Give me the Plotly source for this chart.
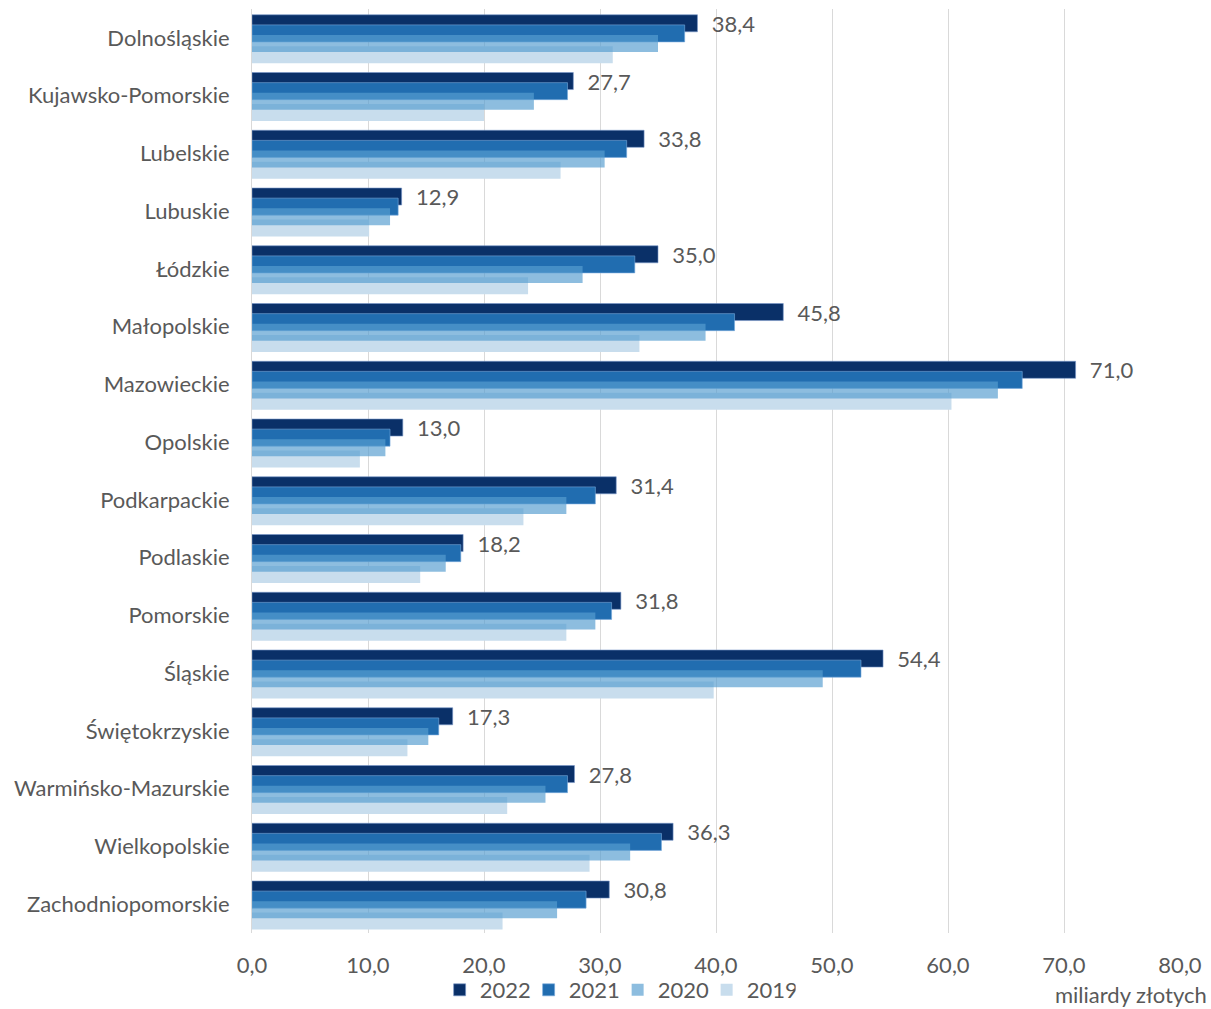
import plotly.graph_objects as go

regions = ["Dolnośląskie", "Kujawsko-Pomorskie", "Lubelskie", "Lubuskie", "Łódzkie",
           "Małopolskie", "Mazowieckie", "Opolskie", "Podkarpackie", "Podlaskie",
           "Pomorskie", "Śląskie", "Świętokrzyskie", "Warmińsko-Mazurskie",
           "Wielkopolskie", "Zachodniopomorskie"]

v2022 = [38.4, 27.7, 33.8, 12.9, 35.0, 45.8, 71.0, 13.0, 31.4, 18.2, 31.8, 54.4, 17.3, 27.8, 36.3, 30.8]
v2021 = [37.3, 27.2, 32.3, 12.6, 33.0, 41.6, 66.4, 11.9, 29.6, 18.0, 31.0, 52.5, 16.1, 27.2, 35.3, 28.8]
v2020 = [35.0, 24.3, 30.4, 11.9, 28.5, 39.1, 64.3, 11.5, 27.1, 16.7, 29.6, 49.2, 15.2, 25.3, 32.6, 26.3]
v2019 = [31.1, 20.0, 26.6, 10.1, 23.8, 33.4, 60.3, 9.3, 23.4, 14.5, 27.1, 39.8, 13.4, 22.0, 29.1, 21.6]

FONT = "Lato"
GREY = "#595959"
FS = 22

fig = go.Figure()

W = 0.295
# draw order: 2019 at bottom, then 2022, 2021, 2020 (semi-transparent)
fig.add_trace(go.Bar(name="2019", y=regions, x=v2019, orientation="h",
                     marker=dict(color="#C8DDED", line=dict(width=0)),
                     offset=0.145, width=W, legendrank=4))
fig.add_trace(go.Bar(name="2022", y=regions, x=v2022, orientation="h",
                     marker=dict(color="#0A3068", line=dict(width=1, color="rgba(120,150,200,0.6)")),
                     offset=-0.40, width=W, legendrank=1,
                     texttemplate="  %{x:.1f}", textposition="outside", constraintext="none",
                     textfont=dict(family=FONT, size=FS, color=GREY), cliponaxis=False))
fig.add_trace(go.Bar(name="2021", y=regions, x=v2021, orientation="h",
                     marker=dict(color="#216DB0", line=dict(width=1, color="rgba(120,170,220,0.6)")),
                     offset=-0.225, width=W, legendrank=2))
fig.add_trace(go.Bar(name="2020", y=regions, x=v2020, orientation="h",
                     marker=dict(color="rgba(87,158,208,0.68)", line=dict(width=0)),
                     offset=-0.05, width=W, legendrank=3))

fig.update_layout(
    width=1211, height=1009,
    margin=dict(l=252, r=31, t=9, b=76, autoexpand=False),
    paper_bgcolor="white", plot_bgcolor="white",
    barmode="overlay",
    separators=", ",
    font=dict(family=FONT, size=FS, color=GREY),
    showlegend=True,
    legend=dict(orientation="h", x=0.394, xanchor="center",
                yref="container", y=0.0188, yanchor="middle",
                font=dict(family=FONT, size=FS, color=GREY), traceorder="normal",
                itemwidth=30, entrywidth=44, entrywidthmode="pixels",
                bgcolor="rgba(0,0,0,0)"),
    xaxis=dict(range=[0, 80], dtick=10, tickformat=".1f", showgrid=True,
               gridcolor="#D9D9D9", gridwidth=1, zeroline=False, showline=False,
               ticks="", ticklabelstandoff=17, automargin=False,
               tickfont=dict(family=FONT, size=FS, color=GREY)),
    yaxis=dict(autorange="reversed", showgrid=False, showline=True, linecolor="#D9D9D9",
               linewidth=1, ticks="", ticklabelstandoff=17, automargin=False,
               tickfont=dict(family=FONT, size=FS, color=GREY)),
    annotations=[dict(text="miliardy złotych", xref="paper", yref="paper",
                      x=1.031, y=-0.067, xanchor="right", yanchor="middle",
                      showarrow=False, font=dict(family=FONT, size=FS, color=GREY))],
)

fig.write_html("out.html", config={"displayModeBar": False},
               post_script="document.body.style.margin='0px';document.body.style.overflow='hidden';")
